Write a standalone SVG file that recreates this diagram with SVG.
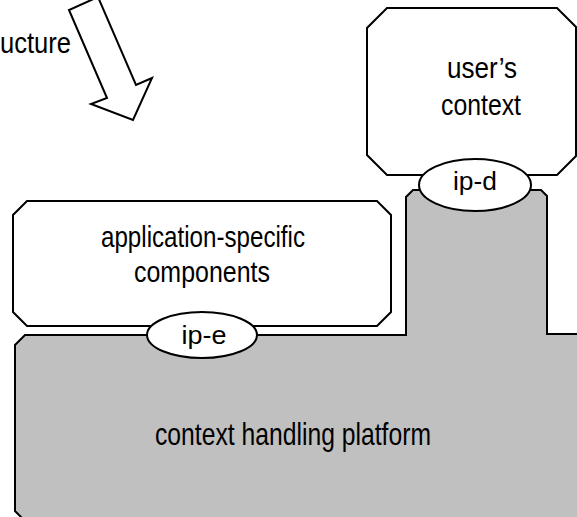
<svg xmlns="http://www.w3.org/2000/svg" width="577" height="517" viewBox="0 0 577 517">
  <style>
    .outline { stroke: #000; stroke-width: 2; stroke-linejoin: miter; }
    .white { fill: #fff; }
    .grey { fill: #c0c0c0; }
    text { font-family: "Liberation Sans", Arial, sans-serif; fill: #000; text-anchor: middle; }
    .big { font-size: 32px; }
    .lbl { font-size: 30px; }
    .ip { font-size: 26px; }
  </style>
  <rect width="577" height="517" fill="#fff"/>

  <!-- hollow block arrow pointing down-right -->
  <g id="arrow">
    <polygon class="outline white" points="69,10 107,98 91,104 133,120 152,78 136,85 98,-3"/>
    <text class="lbl" x="0" y="53" style="text-anchor:start" textLength="71" lengthAdjust="spacingAndGlyphs">ucture</text>
  </g>

  <!-- shared platform with the raised tower under ip-d -->
  <g id="platform">
    <path class="outline grey" d="M25,335 H406 V197 L413,190 H541 L547,196 V334 H580 V518 H22 L15,511 V345 Z"/>
    <text class="big" x="293" y="445" textLength="276" lengthAdjust="spacingAndGlyphs">context handling platform</text>
  </g>

  <g id="app-components">
    <polygon class="outline white" points="27,201 377,201 391,215 391,312 377,326 27,326 13,312 13,215"/>
    <text class="lbl" x="203" y="247" textLength="204" lengthAdjust="spacingAndGlyphs">application-specific</text>
    <text class="lbl" x="202" y="282" textLength="136" lengthAdjust="spacingAndGlyphs">components</text>
  </g>

  <g id="users-context">
    <polygon class="outline white" points="387,8 557,8 576,27 576,156 557,175 387,175 367,155 367,28"/>
    <text class="lbl" x="482" y="78" textLength="70" lengthAdjust="spacingAndGlyphs">user’s</text>
    <text class="lbl" x="481" y="115" textLength="80" lengthAdjust="spacingAndGlyphs">context</text>
  </g>

  <g id="ip-e">
    <ellipse class="outline white" cx="202" cy="335" rx="55" ry="23"/>
    <text class="ip" x="204" y="344" textLength="45" lengthAdjust="spacingAndGlyphs">ip-e</text>
  </g>

  <g id="ip-d">
    <ellipse class="outline white" cx="475" cy="185" rx="56" ry="26"/>
    <text class="ip" x="475" y="190" textLength="44" lengthAdjust="spacingAndGlyphs">ip-d</text>
  </g>
</svg>
